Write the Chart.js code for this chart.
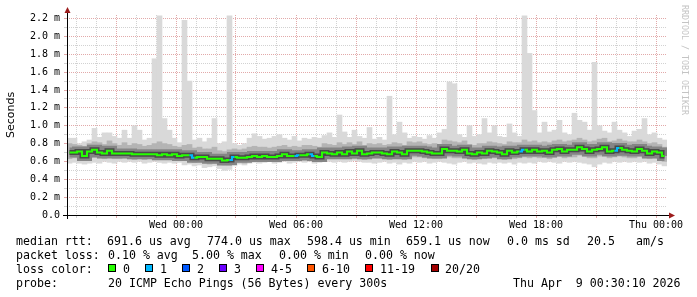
<!DOCTYPE html>
<html>
<head>
<meta charset="utf-8">
<script src="https://cdn.jsdelivr.net/npm/chart.js@4/dist/chart.umd.min.js"></script>
<style>
  html, body { margin: 0; padding: 0; background: #fff; }
  #wrap { position: relative; width: 697px; height: 297px; overflow: hidden; }
  #chart { position: absolute; left: 0; top: 0; }
  .lg { position: absolute; font-family: 'DejaVu Sans Mono', monospace; font-size: 11.6px; line-height: 14px; color: #000; white-space: pre; }
  .box { position: absolute; top: 264px; width: 6px; height: 6px; border: 1px solid #000; }
</style>
</head>
<body>
<div id="wrap">
  <canvas id="chart" width="697" height="297"></canvas>

  <div class="lg" style="left:16px;top:234px">median rtt:</div>
  <div class="lg" style="left:107px;top:234px">691.6 us avg</div>
  <div class="lg" style="left:207px;top:234px">774.0 us max</div>
  <div class="lg" style="left:307px;top:234px">598.4 us min</div>
  <div class="lg" style="left:406px;top:234px">659.1 us now</div>
  <div class="lg" style="left:507px;top:234px">0.0 ms sd</div>
  <div class="lg" style="left:587px;top:234px">20.5</div>
  <div class="lg" style="left:636px;top:234px">am/s</div>

  <div class="lg" style="left:16px;top:248px">packet loss:</div>
  <div class="lg" style="left:108px;top:248px">0.10 % avg</div>
  <div class="lg" style="left:192px;top:248px">5.00 % max</div>
  <div class="lg" style="left:279px;top:248px">0.00 % min</div>
  <div class="lg" style="left:365px;top:248px">0.00 % now</div>

  <div class="lg" style="left:16px;top:262px">loss color:</div>
  <div class="box" style="left:108px;background:#26ff00"></div><div class="lg" style="left:123px;top:262px">0</div>
  <div class="box" style="left:145px;background:#00b8ff"></div><div class="lg" style="left:160px;top:262px">1</div>
  <div class="box" style="left:182px;background:#0059ff"></div><div class="lg" style="left:197px;top:262px">2</div>
  <div class="box" style="left:219px;background:#6a00ff"></div><div class="lg" style="left:234px;top:262px">3</div>
  <div class="box" style="left:256px;background:#ff00ff"></div><div class="lg" style="left:271px;top:262px">4-5</div>
  <div class="box" style="left:307px;background:#ff5500"></div><div class="lg" style="left:322px;top:262px">6-10</div>
  <div class="box" style="left:365px;background:#ff0000"></div><div class="lg" style="left:380px;top:262px">11-19</div>
  <div class="box" style="left:431px;background:#a10000"></div><div class="lg" style="left:445px;top:262px">20/20</div>

  <div class="lg" style="left:16px;top:276px">probe:</div>
  <div class="lg" style="left:108px;top:276px">20 ICMP Echo Pings (56 Bytes) every 300s</div>
  <div class="lg" style="left:513px;top:276px">Thu Apr  9 00:30:10 2026</div>
</div>

<script>
// Valores (em ms), uma coluna a cada 15 minutos, 120 colunas = 30 h
const rttMedian = [
  0.70, 0.70, 0.71, 0.66, 0.71, 0.73, 0.70, 0.69, 0.72, 0.69,
  0.69, 0.69, 0.69, 0.68, 0.68, 0.68, 0.68, 0.68, 0.67, 0.68,
  0.67, 0.68, 0.66, 0.67, 0.67, 0.64, 0.65, 0.65, 0.63, 0.63,
  0.63, 0.61, 0.615, 0.65, 0.64, 0.64, 0.65, 0.66, 0.65, 0.66,
  0.65, 0.65, 0.66, 0.68, 0.66, 0.66, 0.67, 0.67, 0.68, 0.66,
  0.65, 0.70, 0.69, 0.68, 0.70, 0.68, 0.71, 0.69, 0.72, 0.68,
  0.69, 0.70, 0.70, 0.69, 0.68, 0.71, 0.70, 0.68, 0.72, 0.72,
  0.72, 0.71, 0.70, 0.69, 0.69, 0.74, 0.72, 0.72, 0.71, 0.73,
  0.69, 0.68, 0.70, 0.69, 0.72, 0.71, 0.70, 0.68, 0.72, 0.70,
  0.71, 0.73, 0.71, 0.73, 0.71, 0.72, 0.70, 0.73, 0.74, 0.71,
  0.73, 0.73, 0.76, 0.74, 0.71, 0.73, 0.74, 0.76, 0.71, 0.72,
  0.75, 0.73, 0.72, 0.71, 0.74, 0.72, 0.69, 0.71, 0.70, 0.66
];

const rttMin = [
  0.58, 0.59, 0.58, 0.57, 0.58, 0.59, 0.58, 0.60, 0.59, 0.58,
  0.60, 0.59, 0.60, 0.59, 0.60, 0.58, 0.59, 0.60, 0.59, 0.58,
  0.59, 0.58, 0.59, 0.56, 0.57, 0.55, 0.56, 0.53, 0.54, 0.55,
  0.52, 0.50, 0.51, 0.55, 0.57, 0.56, 0.58, 0.59, 0.58, 0.59,
  0.60, 0.58, 0.59, 0.60, 0.58, 0.59, 0.60, 0.59, 0.60, 0.58,
  0.59, 0.61, 0.60, 0.59, 0.60, 0.59, 0.60, 0.61, 0.60, 0.59,
  0.59, 0.58, 0.59, 0.60, 0.58, 0.59, 0.57, 0.59, 0.58, 0.60,
  0.59, 0.60, 0.58, 0.59, 0.60, 0.59, 0.58, 0.57, 0.59, 0.60,
  0.58, 0.59, 0.58, 0.57, 0.59, 0.58, 0.59, 0.58, 0.59, 0.57,
  0.59, 0.58, 0.59, 0.58, 0.60, 0.59, 0.60, 0.59, 0.58, 0.60,
  0.59, 0.60, 0.59, 0.58, 0.57, 0.54, 0.57, 0.59, 0.58, 0.60,
  0.59, 0.60, 0.59, 0.60, 0.59, 0.60, 0.58, 0.59, 0.57, 0.55
];

const rttLow = [
  0.63, 0.64, 0.64, 0.61, 0.64, 0.65, 0.64, 0.63, 0.65, 0.63,
  0.63, 0.64, 0.63, 0.62, 0.63, 0.62, 0.63, 0.62, 0.62, 0.63,
  0.62, 0.62, 0.61, 0.61, 0.61, 0.59, 0.60, 0.59, 0.57, 0.58,
  0.57, 0.56, 0.56, 0.59, 0.59, 0.58, 0.60, 0.61, 0.60, 0.61,
  0.60, 0.60, 0.61, 0.62, 0.61, 0.61, 0.62, 0.61, 0.62, 0.61,
  0.60, 0.64, 0.63, 0.63, 0.64, 0.63, 0.65, 0.63, 0.65, 0.62,
  0.63, 0.64, 0.64, 0.63, 0.62, 0.64, 0.63, 0.62, 0.65, 0.65,
  0.65, 0.64, 0.64, 0.63, 0.63, 0.66, 0.65, 0.64, 0.64, 0.65,
  0.63, 0.62, 0.64, 0.63, 0.65, 0.64, 0.64, 0.62, 0.65, 0.63,
  0.64, 0.65, 0.64, 0.65, 0.64, 0.65, 0.63, 0.65, 0.66, 0.64,
  0.65, 0.65, 0.67, 0.66, 0.64, 0.64, 0.66, 0.67, 0.64, 0.65,
  0.66, 0.65, 0.64, 0.64, 0.66, 0.64, 0.63, 0.64, 0.63, 0.60
];

const rttHigh = [
  0.80, 0.79, 0.78, 0.77, 0.80, 0.82, 0.81, 0.79, 0.83, 0.80,
  0.78, 0.81, 0.78, 0.80, 0.79, 0.77, 0.78, 0.80, 0.82, 0.80,
  0.79, 0.77, 0.76, 0.78, 0.79, 0.75, 0.76, 0.74, 0.74, 0.76,
  0.72, 0.71, 0.73, 0.74, 0.73, 0.74, 0.76, 0.77, 0.76, 0.76,
  0.75, 0.76, 0.77, 0.78, 0.76, 0.77, 0.76, 0.78, 0.78, 0.77,
  0.76, 0.80, 0.79, 0.78, 0.81, 0.79, 0.81, 0.79, 0.82, 0.78,
  0.80, 0.79, 0.80, 0.78, 0.79, 0.81, 0.80, 0.78, 0.82, 0.81,
  0.82, 0.80, 0.79, 0.80, 0.79, 0.84, 0.83, 0.82, 0.81, 0.83,
  0.79, 0.78, 0.80, 0.80, 0.82, 0.81, 0.80, 0.79, 0.82, 0.81,
  0.81, 0.84, 0.82, 0.83, 0.81, 0.82, 0.81, 0.83, 0.84, 0.82,
  0.83, 0.84, 0.86, 0.84, 0.82, 0.83, 0.85, 0.86, 0.82, 0.83,
  0.85, 0.83, 0.82, 0.82, 0.84, 0.82, 0.80, 0.81, 0.79, 0.76
];

const rttMax = [
  0.86, 0.86, 0.80, 0.82, 0.84, 0.97, 0.87, 0.92, 0.92, 0.88,
  0.86, 0.95, 0.86, 1.00, 0.95, 0.84, 0.86, 1.75, 2.23, 1.08,
  0.95, 0.86, 0.81, 2.18, 1.50, 0.84, 0.86, 0.82, 0.86, 1.08,
  0.80, 0.82, 2.23, 0.80, 0.78, 0.80, 0.86, 0.91, 0.88, 0.85,
  0.86, 0.88, 0.90, 0.86, 0.84, 0.88, 0.83, 0.86, 0.85, 0.87,
  0.86, 0.89, 0.92, 0.87, 1.12, 0.93, 0.87, 0.95, 0.88, 0.86,
  0.98, 0.85, 0.87, 0.84, 1.33, 0.90, 1.04, 0.92, 0.86, 0.88,
  0.87, 0.85, 0.89, 0.86, 0.92, 0.96, 1.49, 1.47, 0.90, 0.87,
  1.00, 0.88, 0.90, 1.08, 0.92, 1.00, 0.88, 0.87, 1.02, 0.92,
  0.88, 2.23, 1.81, 1.17, 0.92, 1.04, 0.93, 0.95, 1.06, 0.92,
  0.90, 1.14, 1.06, 1.04, 0.95, 1.71, 1.00, 0.94, 0.92, 1.04,
  0.95, 0.92, 0.88, 0.94, 0.96, 1.08, 0.90, 0.92, 0.86, 0.84
];

// pings perdidos (de 20) em cada coluna
const lossCount = [
  0, 0, 0, 0, 0, 0, 0, 0, 0, 0,
  0, 0, 0, 0, 0, 0, 0, 0, 0, 0,
  0, 0, 0, 0, 1, 0, 0, 0, 0, 0,
  0, 0, 1, 0, 0, 0, 0, 0, 0, 0,
  0, 0, 0, 0, 0, 1, 0, 0, 1, 0,
  0, 0, 0, 0, 0, 0, 0, 0, 0, 0,
  0, 0, 0, 0, 0, 0, 0, 0, 0, 0,
  0, 0, 0, 0, 0, 0, 0, 0, 0, 0,
  0, 0, 0, 0, 0, 0, 0, 0, 0, 0,
  1, 0, 0, 0, 0, 0, 0, 0, 0, 0,
  0, 0, 0, 0, 0, 0, 0, 0, 0, 1,
  0, 0, 0, 0, 0, 0, 0, 0, 0, 0
];

const lossLabels = ['0', '1', '2', '3', '4-5', '6-10', '11-19', '20/20'];
const lossColors = ['#26ff00', '#00b8ff', '#0059ff', '#6a00ff', '#ff00ff', '#ff5500', '#ff0000', '#a10000'];

// eixo de tempo em horas a partir de Qua 00:00 (início ~Ter 18:33)
const startHour = -5.45;
const stepHour = 0.25;
const dayNames = ['Wed', 'Thu'];

const hours = rttMedian.map((_, i) => startHour + stepHour * (i + 0.5));
const hourTicks = [];
for (let h = -5; h <= 24; h++) hourTicks.push(h);
const yTicks = [];
for (let k = 0; k <= 22; k++) yTicks.push(k / 10);

const gridRed = '#e2a9a9';
const gridGrey = '#d2d2d2';

function lossIndex(n) {
  if (n <= 3) return n;
  if (n <= 5) return 4;
  if (n <= 10) return 5;
  if (n < 20) return 6;
  return 7;
}

function hourLabel(v) {
  if (v % 6 !== 0) return '';
  const day = dayNames[Math.floor(v / 24)];
  const h = ((v % 24) + 24) % 24;
  return day + ' ' + String(h).padStart(2, '0') + ':00';
}

const band = (lo, hi) => hours.map((x, i) => ({ x: x, y: [lo[i], hi[i]] }));
const line = vals => hours.map((x, i) => ({ x: x, y: vals[i] }));

// eixos com setas e marca d'água do rrdtool
const rrdDecor = {
  id: 'rrdDecor',
  afterDatasetsDraw(chart) {
    const { ctx, chartArea: a } = chart;
    ctx.save();
    ctx.strokeStyle = '#000';
    ctx.lineWidth = 1;
    ctx.beginPath();
    ctx.moveTo(a.left - 4, a.bottom + 0.5);
    ctx.lineTo(a.right + 3, a.bottom + 0.5);
    ctx.moveTo(a.left + 0.5, a.bottom + 4);
    ctx.lineTo(a.left + 0.5, a.top - 2);
    ctx.stroke();

    ctx.fillStyle = '#9c1c1c';
    ctx.beginPath();
    ctx.moveTo(a.right + 8, a.bottom + 0.5);
    ctx.lineTo(a.right + 2, a.bottom - 2.5);
    ctx.lineTo(a.right + 2, a.bottom + 3.5);
    ctx.closePath();
    ctx.fill();
    ctx.beginPath();
    ctx.moveTo(a.left + 0.5, a.top - 8);
    ctx.lineTo(a.left - 2.5, a.top - 2);
    ctx.lineTo(a.left + 3.5, a.top - 2);
    ctx.closePath();
    ctx.fill();

    ctx.translate(684, 5);
    ctx.rotate(Math.PI / 2);
    ctx.font = '8.3px "DejaVu Sans Mono"';
    ctx.fillStyle = '#c4c4c4';
    ctx.textBaseline = 'middle';
    ctx.fillText('RRDTOOL / TOBI OETIKER', 0, 0);
    ctx.restore();
  }
};

Chart.defaults.font.family = "'DejaVu Sans Mono', monospace";
Chart.defaults.font.size = 10;
Chart.defaults.color = '#000';

new Chart(document.getElementById('chart'), {
  type: 'bar',
  data: {
    datasets: [
      {
        label: 'min/max',
        data: band(rttMin, rttMax),
        backgroundColor: '#d9d9d9',
        borderWidth: 0,
        barPercentage: 1,
        categoryPercentage: 1,
        grouped: false,
        order: 10
      },
      {
        label: 'faixa',
        data: band(rttLow, rttHigh),
        backgroundColor: '#b4b4b4',
        borderWidth: 0,
        barPercentage: 1,
        categoryPercentage: 1,
        grouped: false,
        order: 9
      },
      {
        type: 'line',
        label: 'fumaça',
        data: line(rttMedian),
        borderColor: '#858585',
        borderWidth: 10,
        stepped: 'middle',
        pointRadius: 0,
        order: 8
      },
      {
        type: 'line',
        label: 'núcleo',
        data: line(rttMedian),
        borderColor: '#4a4a4a',
        borderWidth: 5,
        stepped: 'middle',
        pointRadius: 0,
        order: 7
      },
      {
        type: 'line',
        label: 'median rtt',
        data: line(rttMedian),
        borderColor: lossColors[0],
        borderWidth: 2,
        stepped: 'middle',
        pointRadius: 0,
        segment: {
          borderColor: c => lossColors[lossIndex(lossCount[c.p0DataIndex])]
        },
        order: 1
      }
    ]
  },
  plugins: [rrdDecor],
  options: {
    responsive: false,
    animation: false,
    devicePixelRatio: 1,
    layout: { padding: { left: 0, right: 30, top: 15, bottom: 0 } },
    plugins: {
      legend: { display: false },
      tooltip: { enabled: false }
    },
    scales: {
      x: {
        type: 'linear',
        min: startHour,
        max: startHour + stepHour * rttMedian.length,
        offset: false,
        afterBuildTicks: s => { s.ticks = hourTicks.map(v => ({ value: v })); },
        afterFit: s => { s.height = 82; },
        ticks: {
          autoSkip: false,
          maxRotation: 0,
          padding: 1,
          callback: v => hourLabel(v)
        },
        grid: {
          offset: false,
          tickLength: 3,
          color: c => (c.tick && c.tick.value % 3 === 0) ? gridRed : gridGrey
        },
        border: { display: false, dash: [1, 1] }
      },
      y: {
        min: 0,
        max: 2.24,
        afterBuildTicks: s => { s.ticks = yTicks.map(v => ({ value: v })); },
        afterFit: s => { s.width = 67; },
        ticks: {
          autoSkip: false,
          padding: 4,
          callback: v => {
            const k = Math.round(v * 10);
            if (k % 2 !== 0) return '';
            return k === 0 ? '0.0' : v.toFixed(1) + ' m';
          }
        },
        grid: {
          tickLength: 3,
          color: c => (c.tick && Math.round(c.tick.value * 10) % 2 === 0) ? gridRed : gridGrey
        },
        border: { display: false, dash: [1, 1] },
        title: {
          display: true,
          text: 'Seconds',
          color: '#000',
          font: { family: "'DejaVu Sans', sans-serif", size: 11 },
          padding: { top: 5, bottom: 0 }
        }
      }
    }
  }
});
</script>
</body>
</html>
